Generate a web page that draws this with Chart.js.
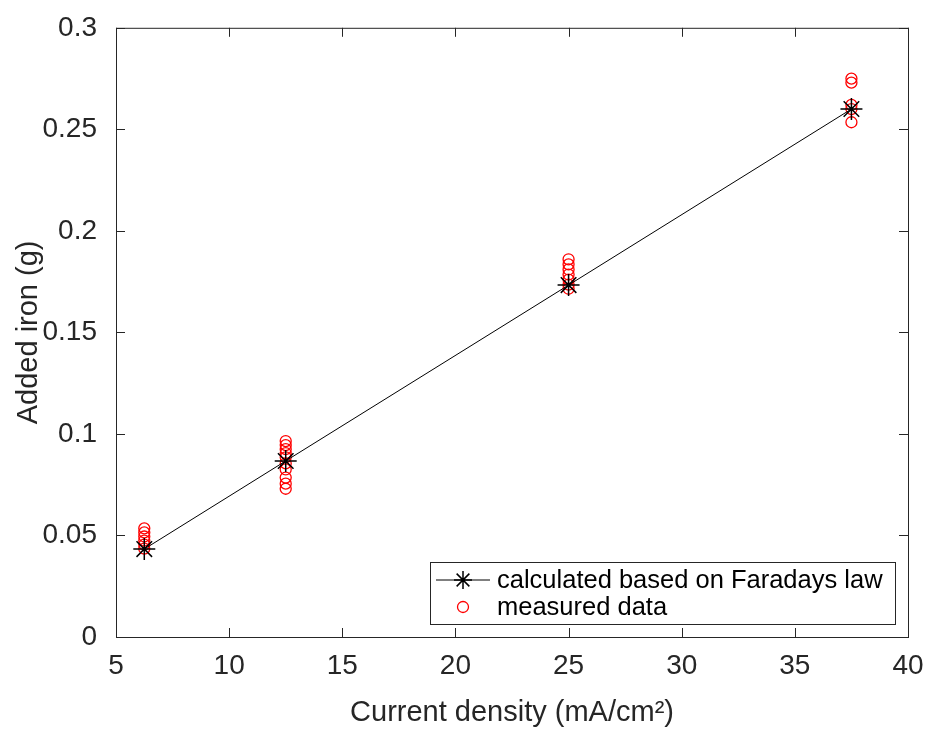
<!DOCTYPE html>
<html>
<head>
<meta charset="utf-8">
<script src="https://cdn.jsdelivr.net/npm/chart.js@4"></script>
<style>
  html, body { margin: 0; padding: 0; background: #fff; }
  #wrap { width: 925px; height: 731px; }
</style>
</head>
<body>
<div id="wrap"><canvas id="myChart" width="925" height="731"></canvas></div>
<script>
// current densities (mA/cm2)
var densities = [6.25, 12.5, 25, 37.5]
// calculated from Faraday's law (g)
var calculated = [0.0433, 0.0867, 0.1733, 0.26]
// measured added iron (g), one list per current density
var measured625 = [0.0535, 0.0515, 0.0495, 0.0475, 0.0455, 0.0435]
var measured125 = [0.0965, 0.0945, 0.0925, 0.0905, 0.0885, 0.0855, 0.0825, 0.0785, 0.0755, 0.0730]
var measured25 = [0.1860, 0.1835, 0.1810, 0.1785, 0.1760, 0.1735, 0.1715]
var measured375 = [0.2750, 0.2730, 0.2620, 0.2600, 0.2535]
var xTicks = [5, 10, 15, 20, 25, 30, 35, 40]
var yTicks = ["0", "0.05", "0.1", "0.15", "0.2", "0.25", "0.3"]

var ink = "#262626"
var font = "'Liberation Sans', Arial, Helvetica, sans-serif"

var calcPoints = []
for (var i in densities) {
  calcPoints.push({ x: densities[i], y: calculated[i] })
}
var measPoints = []
var groups = [measured625, measured125, measured25, measured375]
for (var g in groups) {
  for (var k in groups[g]) {
    measPoints.push({ x: densities[g], y: groups[g][k] })
  }
}

// box around the axes, inward ticks, and a legend inside the bottom right
var boxPlugin = {
  id: "box",
  afterDraw: function(chart) {
    var c = chart.ctx, a = chart.chartArea
    var xs = chart.scales.x, ys = chart.scales.y
    c.save()
    c.strokeStyle = ink
    c.lineWidth = 1
    c.strokeRect(a.left + 0.5, a.top + 0.5, a.right - a.left, a.bottom - a.top)
    var tl = 9
    c.beginPath()
    xs.ticks.forEach(function(t) {
      var px = Math.round(xs.getPixelForValue(t.value)) + 0.5
      c.moveTo(px, a.bottom); c.lineTo(px, a.bottom - tl)
      c.moveTo(px, a.top); c.lineTo(px, a.top + tl)
    })
    ys.ticks.forEach(function(t) {
      var py = Math.round(ys.getPixelForValue(t.value)) + 0.5
      c.moveTo(a.left, py); c.lineTo(a.left + tl, py)
      c.moveTo(a.right, py); c.lineTo(a.right - tl, py)
    })
    c.stroke()

    // legend
    var lx = 430, ly = 562, lw = 465, lh = 62
    c.fillStyle = "#fff"
    c.fillRect(lx, ly, lw, lh)
    c.strokeStyle = ink
    c.strokeRect(lx + 0.5, ly + 0.5, lw, lh)
    var ds = chart.data.datasets
    c.font = "25.5px " + font
    c.fillStyle = "#000"
    c.textBaseline = "middle"
    // row 1: line + star
    var r1 = ly + 18
    c.strokeStyle = "#000"
    c.lineWidth = 1
    c.beginPath(); c.moveTo(436, r1); c.lineTo(490, r1); c.stroke()
    c.lineWidth = 1.5
    c.beginPath()
    for (var n = 0; n < 4; n++) {
      var ang = n * Math.PI / 4
      c.moveTo(463 - 9 * Math.cos(ang), r1 - 9 * Math.sin(ang))
      c.lineTo(463 + 9 * Math.cos(ang), r1 + 9 * Math.sin(ang))
    }
    c.stroke()
    c.fillText(ds[0].label, 497, r1 + 1)
    // row 2: circle
    var r2 = ly + 45
    c.strokeStyle = "#ff0000"
    c.lineWidth = 1.3
    c.beginPath(); c.arc(463, r2, 5.5, 0, Math.PI * 2); c.stroke()
    c.fillText(ds[1].label, 497, r2 + 1)
    c.restore()
  }
}

document.addEventListener("DOMContentLoaded", function(event) {

var ctx = document.getElementById("myChart")
var myChart = new Chart(ctx, {
  type: "scatter",
  data: {
    datasets: [
      {
        label: "calculated based on Faradays law",
        data: calcPoints,
        showLine: true,
        borderColor: "#000",
        backgroundColor: "#000",
        borderWidth: 1,
        pointStyle: "star",
        pointRadius: 11,
        pointBorderWidth: 1.5,
        order: 1
      },
      {
        label: "measured data",
        data: measPoints,
        showLine: false,
        borderColor: "#ff0000",
        backgroundColor: "rgba(0,0,0,0)",
        pointStyle: "circle",
        pointRadius: 5.5,
        pointBorderWidth: 1.3,
        order: 2
      }
    ]
  },
  options: {
    responsive: false,
    animation: false,
    layout: { padding: { left: 0, top: 24, right: 0, bottom: 0 } },
    plugins: {
      legend: { display: false },
      tooltip: { enabled: false }
    },
    scales: {
      x: {
        type: "linear",
        min: 5, max: 40,
        afterBuildTicks: function(s) { s.ticks = xTicks.map(function(v) { return { value: v } }) },
        afterFit: function(s) { s.height = 94; s.paddingRight = 17 },
        grid: { display: false },
        border: { display: false },
        ticks: { color: ink, padding: 4, font: { family: font, size: 28 } },
        title: {
          display: true,
          text: "Current density (mA/cm\u00B2)",
          color: ink,
          padding: { top: 0, bottom: 1 },
          font: { family: font, size: 29 }
        }
      },
      y: {
        min: 0, max: 0.3,
        afterBuildTicks: function(s) { s.ticks = yTicks.map(function(v) { return { value: parseFloat(v) } }) },
        afterFit: function(s) { s.width = 116 },
        grid: { display: false },
        border: { display: false },
        ticks: {
          color: ink, padding: 11, font: { family: font, size: 28 },
          callback: function(v, i) { return yTicks[i] }
        },
        title: {
          display: true,
          text: "Added iron (g)",
          color: ink,
          padding: { top: 12, bottom: 0 },
          font: { family: font, size: 29 }
        }
      }
    }
  },
  plugins: [boxPlugin]
})

})
</script>
</body>
</html>
